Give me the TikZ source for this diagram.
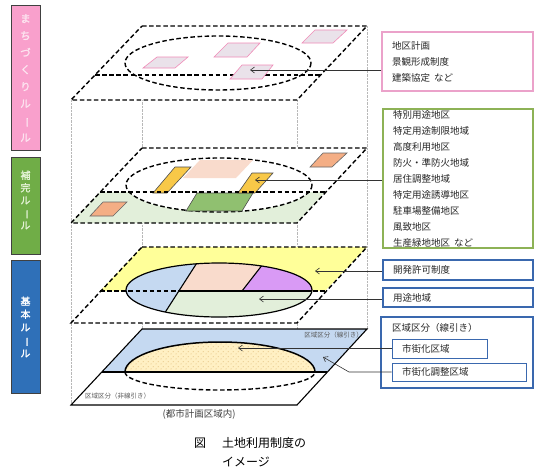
\documentclass[tikz,border=0pt]{standalone}
\usepackage{fontspec}
\setmainfont{Noto Sans CJK JP}
\newfontfamily\jpb[FakeBold=1.6]{Noto Sans CJK JP}
\usetikzlibrary{arrows.meta,patterns.meta}
\definecolor{barpink}{HTML}{F9A0CC}
\definecolor{pinktext}{HTML}{FDE4F0}
\definecolor{bargreen}{HTML}{70AD47}
\definecolor{greentext}{HTML}{E4F2D6}
\definecolor{barblue}{HTML}{2F70B8}
\definecolor{lyellow}{HTML}{FFFF99}
\definecolor{lgreen}{HTML}{E2EFDA}
\definecolor{lblue}{HTML}{C5D9F1}
\definecolor{peach}{HTML}{F9DBCC}
\definecolor{violet}{HTML}{D99AF5}
\definecolor{orng}{HTML}{F4AE85}
\definecolor{gold}{HTML}{F8C848}
\definecolor{leaf}{HTML}{90C070}
\definecolor{pinkfill}{HTML}{EAE2EA}
\definecolor{pinkedge}{HTML}{F08CB8}
\definecolor{boxpink}{HTML}{EBA2CA}
\definecolor{boxgreen}{HTML}{8DB256}
\definecolor{boxblue}{HTML}{3A68AE}
\definecolor{cream}{HTML}{FFF0C4}
\definecolor{dotc}{HTML}{D0A050}
\tikzdeclarepattern{
  name=sdots,
  type=uncolored,
  bottom left={(0pt,0pt)},
  top right={(5pt,5pt)},
  tile size={(5pt,5pt)},
  code={\fill (1.25pt,1.25pt) circle (0.5pt); \fill (3.75pt,3.75pt) circle (0.5pt);}
}
\begin{document}
\begin{tikzpicture}[x=1pt,y=-1pt,
  layerdash/.style={line width=1.4pt, dash pattern=on 4.5pt off 2.6pt},
  guide/.style={draw=black!28, line width=0.4pt, densely dotted},
  arr/.style={draw=black!80, line width=0.6pt, -{Straight Barb[length=4pt,width=6pt]}},
  bar/.style={draw=black!75, line width=0.6pt},
  bartext/.style={align=center, inner sep=0pt},
  tbox/.style={draw, line width=1.2pt, align=left, text=black!85, inner ysep=0pt, inner xsep=10pt,
    font=\fontsize{9.5}{16}\selectfont},
  sbox/.style={draw=boxblue, line width=0.8pt, align=left, text=black!85, inner ysep=0pt, inner xsep=10pt,
    font=\fontsize{9.5}{16}\selectfont},
  small/.style={font=\fontsize{6.5}{7}\selectfont, text=black!65, inner sep=0pt},
  spot/.style={line width=0.6pt}
]
\useasboundingbox (0,0) rectangle (543,474);

% ---- left bars
\draw[bar, fill=barpink] (11,5) rectangle (40,150);
\draw[bar, fill=bargreen] (11,157) rectangle (40,254);
\draw[bar, fill=barblue] (11,260) rectangle (40,393);
\node[bartext, text=pinktext, font=\jpb\fontsize{10.5}{17}\selectfont] (t1) at (25.5,78)
  {ま\\ち\\づ\\く\\り\\ル\\\rotatebox[origin=c]{-90}{ー}\\ル};
\node[bartext, text=greentext, font=\jpb\fontsize{10}{12.5}\selectfont] (t2) at (25.5,200)
  {補\\完\\ル\\\rotatebox[origin=c]{-90}{ー}\\ル};
\node[bartext, text=white, font=\jpb\fontsize{10}{13}\selectfont] (t3) at (25.5,327)
  {基\\本\\ル\\\rotatebox[origin=c]{-90}{ー}\\ル};

% ---- guide lines of the box
\draw[guide] (71,100) -- (71,405);
\draw[guide] (142,26) -- (142,329);
\draw[guide] (297,100) -- (297,405);
\draw[guide] (367,26) -- (367,329);

% ---- layer 1 (machizukuri)
\fill[white] (142,26) -- (367,26) -- (297,100) -- (71,100) -- cycle;
\draw[layerdash] (142,26) -- (367,26) -- (297,100) -- (71,100) -- cycle;
\draw[layerdash] (218,63) ellipse [x radius=93, y radius=27];
\draw[layerdash] (95,75) -- (320,75);
\foreach \a/\b/\c/\d/\e/\f/\g/\h in {157/57/188/57/175/68/143/68, 228/43/260/43/247/57/214/57,
  315/30/347/30/333/43/302/43, 242/65/273/65/262/79/230/79}
  \draw[spot, draw=pinkedge, fill=pinkfill] (\a,\b) -- (\c,\d) -- (\e,\f) -- (\g,\h) -- cycle;

% ---- layer 2 (hokan)
\fill[white] (142,148) -- (367,148) -- (297,223) -- (71,223) -- cycle;
\fill[lgreen] (100,192) -- (325,192) -- (297,223) -- (71,223) -- cycle;
\fill[white] (219,185) ellipse [x radius=93, y radius=27];
\draw[layerdash] (219,185) ellipse [x radius=93, y radius=27];
\fill[peach] (200,160) -- (253,160) -- (236,178) -- (183,178) -- cycle;
\draw[spot, fill=leaf, draw=black!70] (197,193) -- (253,193) -- (242,211) -- (186,211) -- cycle;
\draw[spot, fill=gold, draw=black!70] (175,167) -- (191,167) -- (167,193) -- (153,193) -- cycle;
\draw[spot, fill=gold, draw=black!70] (252,173) -- (273,173) -- (255,193) -- (238,193) -- cycle;
\draw[spot, fill=orng, draw=black!60] (323,153) -- (347,153) -- (332,167) -- (310,167) -- cycle;
\draw[spot, fill=orng, draw=black!60] (103,202) -- (127,202) -- (113,216) -- (90,216) -- cycle;
\draw[layerdash] (142,148) -- (367,148) -- (297,223) -- (71,223) -- cycle;
\draw[layerdash] (100,192) -- (325,192);

% ---- layer 3 (kaihatsu / youto)
\fill[white] (142,247) -- (367,247) -- (297,323) -- (71,323) -- cycle;
\fill[lyellow] (142,247) -- (367,247) -- (325,291) -- (100,291) -- cycle;
\begin{scope}
  \clip (219,290) ellipse [x radius=93, y radius=27];
  \fill[peach] (100,250) rectangle (340,291);
  \fill[violet] (270,255) -- (340,255) -- (340,291) -- (242,291) -- cycle;
  \fill[lgreen] (100,291) rectangle (340,330);
  \fill[lblue] (100,255) -- (202,255) -- (157,325) -- (100,325) -- cycle;
\end{scope}
\draw[layerdash] (142,247) -- (367,247) -- (297,323) -- (71,323) -- cycle;
\draw[layerdash] (100,291) -- (325,291);
\begin{scope}
  \clip (219,290) ellipse [x radius=93, y radius=27];
  \draw[line width=1.1pt] (179,291) -- (340,291);
  \draw[line width=1.1pt] (202,255) -- (157,325);
  \draw[line width=1.1pt] (270,255) -- (242,291);
\end{scope}
\draw[line width=1.2pt] (219,290) ellipse [x radius=93, y radius=27];

% ---- layer 4 (kuiki kubun)
\fill[lblue] (142,329) -- (367,329) -- (327,372) -- (102,372) -- cycle;
\fill[white] (102,372) -- (327,372) -- (297,405) -- (71,405) -- cycle;
\fill[cream] (125,372) arc[start angle=180, end angle=0, x radius=95pt, y radius=30pt] -- cycle;
\fill[pattern=sdots, pattern color=dotc] (125,372) arc[start angle=180, end angle=0, x radius=95pt, y radius=30pt] -- cycle;
\draw[line width=1.1pt] (142,329) -- (367,329) -- (297,405) -- (71,405) -- cycle;
\draw[line width=1.1pt] (102,372) -- (327,372);
\draw[line width=1.5pt] (125,372) arc[start angle=180, end angle=0, x radius=95pt, y radius=30pt];
\draw[layerdash] (125,372) arc[start angle=180, end angle=360, x radius=95pt, y radius=18pt];
\node[small, anchor=east] (lab1) at (363,335) {区域区分（線引き）};
\node[small, anchor=west] (lab2) at (85,396) {区域区分（非線引き）};
\node[font=\fontsize{9.5}{10}\selectfont, text=black!75, inner sep=0pt] (city) at (199,414) {(都市計画区域内)};

% ---- text boxes
\node[tbox, draw=boxpink, text width=131pt, minimum height=59pt] (pb) at (457.5,61.5)
  {地区計画\\景観形成制度\\建築協定\hspace{4pt}など};
\node[tbox, draw=boxgreen, text width=130pt, minimum height=139pt] (gb) at (458,178.5)
  {特別用途地区\\特定用途制限地域\\高度利用地区\\防火・準防火地域\\居住調整地域\\特定用途誘導地区\\駐車場整備地区\\風致地区\\生産緑地地区\hspace{4pt}など};
\node[tbox, draw=boxblue, text width=130pt, minimum height=20pt] (kb) at (458,270) {開発許可制度};
\node[tbox, draw=boxblue, text width=130pt, minimum height=19pt] (yb) at (458,297.5) {用途地域};
\node[tbox, draw=boxblue, minimum width=152pt, minimum height=71pt] (ob) at (457,352.5) {};
\node[font=\fontsize{9.5}{10}\selectfont, text=black!85, anchor=west, inner sep=0pt] (obt) at (392,328) {区域区分（線引き）};
\node[sbox, text width=75pt, minimum height=19pt] (ib1) at (439.5,348.5) {市街化区域};
\node[sbox, text width=114pt, minimum height=18pt] (ib2) at (459,372) {市街化調整区域};

% ---- connectors
\coordinate (a1) at (250,70);
\coordinate (a2) at (255,180);
\coordinate (a3) at (315,271);
\coordinate (a4) at (259,299);
\coordinate (a5) at (238,348);
\coordinate (a6k) at (349,372);
\coordinate (a6) at (323,357);
\draw[arr] (pb.west |- a1) -- (a1);
\draw[arr] (gb.west |- a2) -- (a2);
\draw[arr] (kb.west |- a3) -- (a3);
\draw[arr] (yb.west |- a4) -- (a4);
\draw[arr] (ib1.west |- a5) -- (a5);
\draw[arr] (ib2.west |- a6k) -- (a6k) -- (a6);

% ---- caption
\node[font=\fontsize{12}{14}\selectfont, anchor=west, inner sep=0pt] (cap1) at (194,443) {図\hspace{16pt}土地利用制度の};
\node[font=\fontsize{12}{14}\selectfont, anchor=west, inner sep=0pt] (cap2) at (222,462) {イメージ};
\end{tikzpicture}
\end{document}
